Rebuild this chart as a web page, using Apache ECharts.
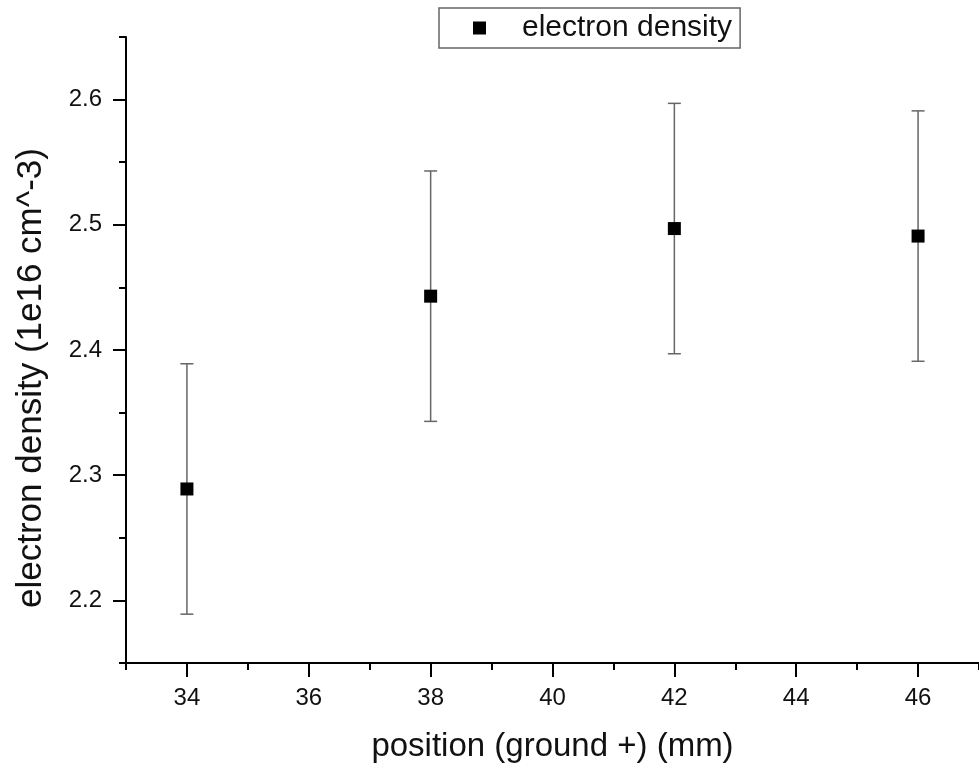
<!DOCTYPE html>
<html>
<head>
<meta charset="utf-8">
<script src="https://cdn.jsdelivr.net/npm/echarts@6/dist/echarts.min.js"></script>
<style>
html,body{margin:0;padding:0;background:#fff;}
#chart{width:979px;height:768px;}
</style>
</head>
<body>
<div id="chart"></div>
<script>
const positions = [34, 38, 42, 46];
const density = [2.289, 2.443, 2.497, 2.491];
const densityErr = [0.1, 0.1, 0.1, 0.1];
const seriesName = 'electron density';
const xTitle = 'position (ground +) (mm)';
const yTitle = 'electron density (1e16 cm^-3)';
const xMajorTicks = [34, 36, 38, 40, 42, 44, 46];
const xMinorTicks = [33, 35, 37, 39, 41, 43, 45, 47];
const yMajorTicks = [2.2, 2.3, 2.4, 2.5, 2.6];
const yMinorTicks = [2.15, 2.25, 2.35, 2.45, 2.55, 2.65];

const FONT = "'Liberation Sans', Arial, sans-serif";
const pts = positions.map((x, i) => [x, density[i]]);
const errs = positions.map((x, i) => [x, density[i] - densityErr[i], density[i] + densityErr[i]]);

const xBase = {type: 'value', min: 33, max: 47, splitLine: {show: false}};
const yBase = {type: 'value', min: 2.15, max: 2.65, splitLine: {show: false}};

const chart = echarts.init(document.getElementById('chart'), null, {renderer: 'canvas'});
chart.setOption({
  animation: false,
  backgroundColor: '#fff',
  grid: {left: 126, right: 0, top: 37, bottom: 105, containLabel: false, outerBoundsMode: 'none'},
  legend: {
    left: 439, top: 8,
    orient: 'horizontal',
    data: [{name: seriesName, icon: 'rect'}],
    itemWidth: 13, itemHeight: 13,
    borderColor: '#666', borderWidth: 1.5, borderRadius: 0,
    padding: [5, 8, 5, 34],
    formatter: '{t|{name}}',
    textStyle: {
      fontFamily: FONT, fontSize: 30, color: '#111',
      rich: {t: {fontFamily: FONT, fontSize: 30, color: '#111', padding: [0, 0, 0, 31]}}
    },
    itemStyle: {color: '#000', opacity: 1}
  },
  xAxis: [
    Object.assign({}, xBase, {
      name: xTitle, nameLocation: 'middle', nameGap: 67,
      nameTextStyle: {fontFamily: FONT, fontSize: 33, color: '#111'},
      axisLine: {show: true, onZero: false, lineStyle: {color: '#000', width: 2}},
      axisTick: {show: true, inside: false, length: 14, customValues: xMajorTicks,
        lineStyle: {color: '#000', width: 2}},
      axisLabel: {fontFamily: FONT, fontSize: 24, color: '#111', margin: 23,
        customValues: xMajorTicks, formatter: v => String(v)}
    }),
    Object.assign({}, xBase, {
      position: 'bottom',
      axisLine: {show: false, onZero: false},
      axisTick: {show: true, inside: false, length: 7, customValues: xMinorTicks,
        lineStyle: {color: '#000', width: 2}},
      axisLabel: {show: false}
    })
  ],
  yAxis: [
    Object.assign({}, yBase, {
      name: yTitle, nameLocation: 'middle', nameGap: 77,
      nameTextStyle: {fontFamily: FONT, fontSize: 35, color: '#111', padding: [0, 56, 0, 0]},
      axisLine: {show: true, onZero: false, lineStyle: {color: '#000', width: 2}},
      axisTick: {show: true, inside: false, length: 13, customValues: yMajorTicks,
        lineStyle: {color: '#000', width: 2}},
      axisLabel: {fontFamily: FONT, fontSize: 24, color: '#111', margin: 24,
        customValues: yMajorTicks, formatter: v => v.toFixed(1)}
    }),
    Object.assign({}, yBase, {
      position: 'left',
      axisLine: {show: false, onZero: false},
      axisTick: {show: true, inside: false, length: 7, customValues: yMinorTicks,
        lineStyle: {color: '#000', width: 2}},
      axisLabel: {show: false}
    })
  ],
  series: [
    {
      type: 'custom',
      name: 'err',
      data: errs,
      xAxisIndex: 0, yAxisIndex: 0,
      z: 1,
      renderItem: function (params, api) {
        const x = api.value(0);
        const lo = api.coord([x, api.value(1)]);
        const hi = api.coord([x, api.value(2)]);
        const hw = 6.5;
        const st = {stroke: '#666', lineWidth: 1.5};
        return {
          type: 'group',
          children: [
            {type: 'line', shape: {x1: lo[0], y1: lo[1], x2: hi[0], y2: hi[1]}, style: st},
            {type: 'line', shape: {x1: lo[0] - hw, y1: lo[1], x2: lo[0] + hw, y2: lo[1]}, style: st},
            {type: 'line', shape: {x1: hi[0] - hw, y1: hi[1], x2: hi[0] + hw, y2: hi[1]}, style: st}
          ]
        };
      }
    },
    {
      type: 'scatter',
      name: seriesName,
      data: pts,
      xAxisIndex: 0, yAxisIndex: 0,
      symbol: 'rect',
      symbolSize: 13,
      z: 3,
      itemStyle: {color: '#000', opacity: 1}
    }
  ]
});
</script>
</body>
</html>
